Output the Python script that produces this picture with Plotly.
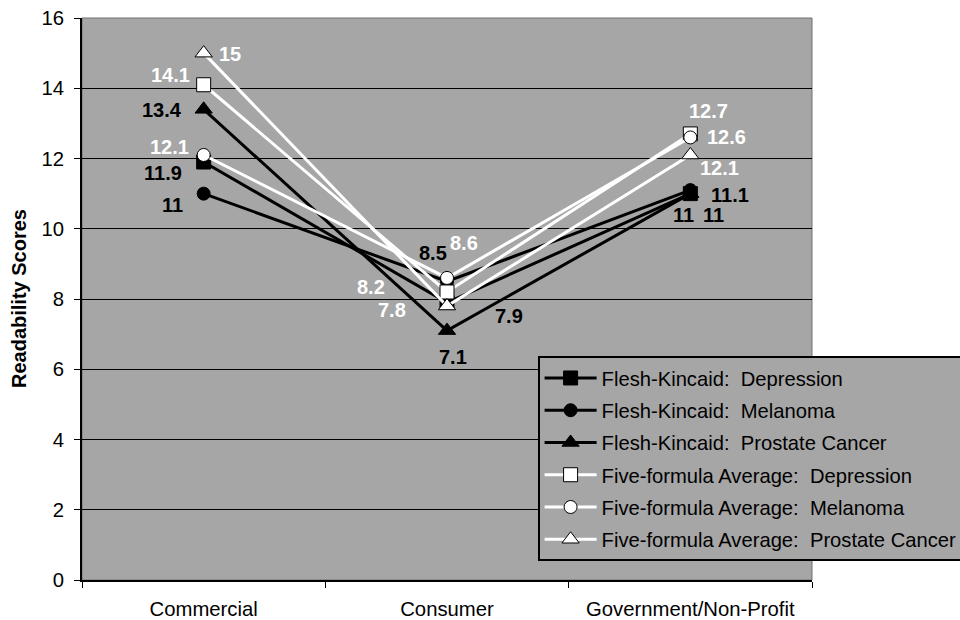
import plotly.graph_objects as go

# Readability scores by website type
categories = ["Commercial", "Consumer", "Government/Non-Profit"]

fk_depression = [11.9, 7.9, 11.0]
fk_melanoma = [11.0, 8.5, 11.1]
fk_prostate = [13.4, 7.1, 11.0]
ff_depression = [14.1, 8.2, 12.7]
ff_melanoma = [12.1, 8.6, 12.6]
ff_prostate = [15.0, 7.8, 12.1]

series_names = [
    "Flesh-Kincaid:  Depression",
    "Flesh-Kincaid:  Melanoma",
    "Flesh-Kincaid:  Prostate Cancer",
    "Five-formula Average:  Depression",
    "Five-formula Average:  Melanoma",
    "Five-formula Average:  Prostate Cancer",
]
series_values = [fk_depression, fk_melanoma, fk_prostate,
                 ff_depression, ff_melanoma, ff_prostate]

# styling per series: line colour, marker symbol, marker size, fill, label colour
styles = [
    ("black", "square", 14, "black", "black"),
    ("black", "circle", 13, "black", "black"),
    ("black", "triangle-up", 15, "black", "black"),
    ("white", "square", 14, "white", "white"),
    ("white", "circle", 13, "white", "white"),
    ("white", "triangle-up", 15, "white", "white"),
]

# pixel offsets (dx, dy) of each data label from its point, per series / category
label_offsets = [
    [(-41, -11), (62, -13), (-7, -21)],
    [(-31, -11), (-14, 28), (40, -5)],
    [(-42, -1), (6, -26), (23, -21)],
    [(-33, 10), (-76, 5), (18, 23)],
    [(-34, 8), (17, 35), (36, 0)],
    [(26, -1), (-55, -4), (29, -13)],
]

PLOT_BG = "#a6a6a6"
FONT = "Liberation Sans, Arial, sans-serif"

fig = go.Figure()
for i, (name, vals) in enumerate(zip(series_names, series_values)):
    lc, sym, msz, fill, _ = styles[i]
    fig.add_trace(go.Scatter(
        x=categories, y=vals, name=name, mode="lines+markers",
        legendgroup=f"g{i}",
        line=dict(color=lc, width=3),
        marker=dict(symbol=sym, size=msz, color=fill,
                    line=dict(color="black", width=1)),
        cliponaxis=False,
    ))

annotations = []
for i, vals in enumerate(series_values):
    tc = styles[i][4]
    for j, v in enumerate(vals):
        dx, dy = label_offsets[i][j]
        annotations.append(dict(
            x=categories[j], y=v, xref="x", yref="y",
            text=f"{v:g}", showarrow=False,
            xshift=dx, yshift=dy, xanchor="center", yanchor="middle",
            font=dict(family=FONT, size=20, color=tc, weight="bold"),
        ))

annotations.append(dict(
    x=0, y=0.5, xref="paper", yref="paper", text="<b>Readability Scores</b>",
    showarrow=False, textangle=-90, xshift=-63, xanchor="center", yanchor="middle",
    font=dict(family=FONT, size=20, color="black"),
))

fig.update_layout(
    width=960, height=620,
    margin=dict(l=82, r=148, t=18, b=40, autoexpand=False),
    paper_bgcolor="white", plot_bgcolor=PLOT_BG,
    font=dict(family=FONT, size=20, color="black"),
    showlegend=True,
    legend=dict(
        x=0.6241, y=0.398, xanchor="left", yanchor="top",
        bgcolor=PLOT_BG, bordercolor="black", borderwidth=2,
        font=dict(family=FONT, size=20.2, color="black"),
        tracegroupgap=3, traceorder="grouped", itemwidth=52,
    ),
    annotations=annotations,
    shapes=[dict(type="rect", xref="paper", yref="paper", x0=0, x1=1, y0=0, y1=1,
                 line=dict(color="#707070", width=1), layer="below")],
    xaxis=dict(
        type="category", range=[-0.5, 2.5], tickson="boundaries",
        showline=True, linecolor="black", linewidth=2,
        ticks="outside", ticklen=6, tickcolor="black", tickwidth=1,
        showgrid=False, zeroline=False, ticklabelstandoff=10,
        tickfont=dict(family=FONT, size=20.3),
    ),
    yaxis=dict(
        range=[0, 16], dtick=2, tick0=0,
        showline=True, linecolor="black", linewidth=2,
        ticks="outside", ticklen=6, tickcolor="black", tickwidth=1,
        showgrid=True, gridcolor="black", gridwidth=1, zeroline=False,
        ticklabelstandoff=6,
        tickfont=dict(family=FONT, size=20.3),
    ),
)

fig.write_html("out.html")
